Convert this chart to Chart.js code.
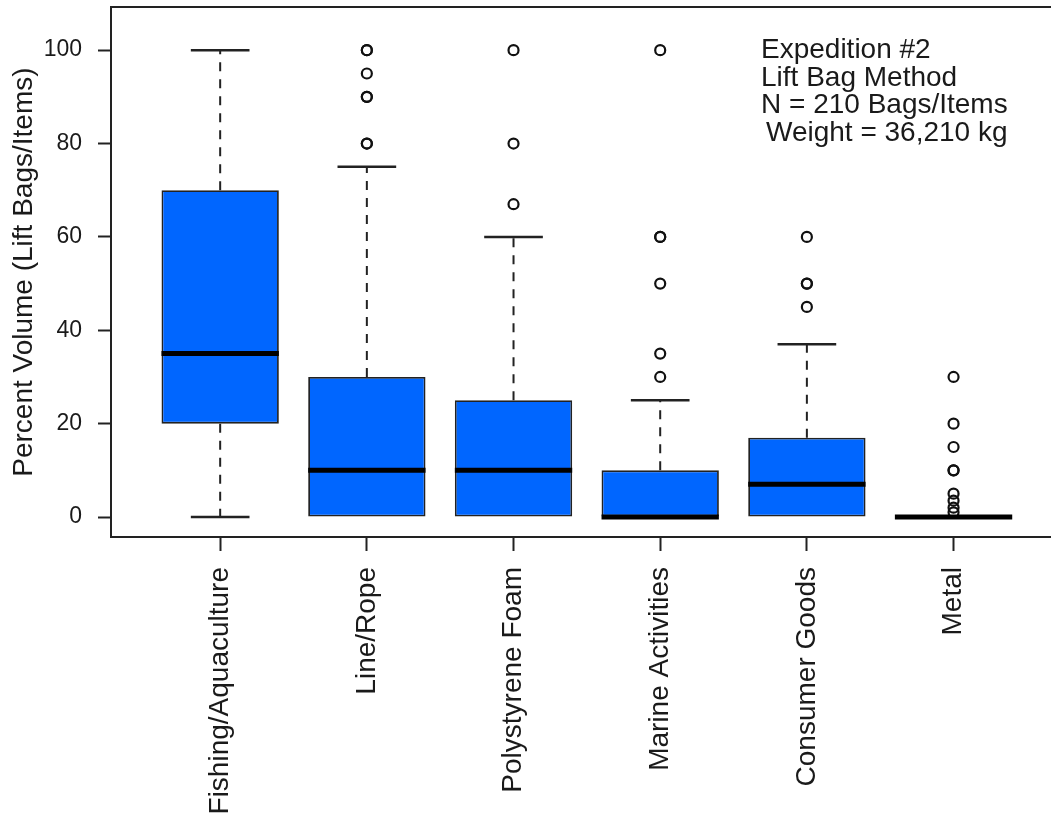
<!DOCTYPE html>
<html>
<head>
<meta charset="utf-8">
<script src="https://cdn.jsdelivr.net/npm/chart.js@4.4.0/dist/chart.umd.min.js"></script>
<style>
  html, body { margin: 0; padding: 0; background: #fff; }
  #chart { display: block; }
</style>
</head>
<body>
<canvas id="chart" width="1058" height="821"></canvas>
<script>
// box plot summary values
const categories = ['Fishing/Aquaculture', 'Line/Rope', 'Polystyrene Foam', 'Marine Activities', 'Consumer Goods', 'Metal'];
const whiskerLow = [0, 0, 0, 0, 0, 0];
const quartile1 = [20, 0, 0, 0, 0, 0];
const medians = [35, 10, 10, 0, 7, 0];
const quartile3 = [70, 30, 25, 10, 17, 0];
const whiskerHigh = [100, 75, 60, 25, 37, 0];
const outliers = [
    [],
    [80, 80, 90, 90, 95, 100, 100],
    [67, 80, 100],
    [30, 35, 50, 60, 60, 100],
    [45, 50, 50, 60],
    [1, 2, 3.5, 5, 10, 10, 15, 20, 30]
];
const yTicks = [0, 20, 40, 60, 80, 100];
const noteLines = ['Expedition #2', 'Lift Bag Method', 'N = 210 Bags/Items', 'Weight = 36,210 kg'];

const family = '"Liberation Sans", Arial, Helvetica, sans-serif';
const ink = '#1a1a1a';
const lineColor = '#222';
const xMin = 0.2557, xMax = 6.663;

const boxParts = {
    id: 'boxParts',
    beforeDatasetsDraw(chart) {
        const { ctx, scales: { x, y } } = chart;
        const capHalf = x.getPixelForValue(1.2) - x.getPixelForValue(1);
        ctx.save();
        ctx.strokeStyle = lineColor;
        categories.forEach((c, i) => {
            const px = x.getPixelForValue(i + 1);
            // dashed whiskers plus solid caps, only where the whisker sticks out of the box
            [[quartile3[i], whiskerHigh[i]], [quartile1[i], whiskerLow[i]]].forEach(([from, to]) => {
                if (from === to) return;
                ctx.lineWidth = 2;
                ctx.setLineDash([9, 8]);
                ctx.beginPath();
                ctx.moveTo(px, y.getPixelForValue(from));
                ctx.lineTo(px, y.getPixelForValue(to));
                ctx.stroke();
                ctx.setLineDash([]);
                ctx.lineWidth = 2.5;
                ctx.beginPath();
                ctx.moveTo(px - capHalf, y.getPixelForValue(to));
                ctx.lineTo(px + capHalf, y.getPixelForValue(to));
                ctx.stroke();
            });
        });
        ctx.restore();
    },
    afterDatasetsDraw(chart) {
        const { ctx, scales: { x, y } } = chart;
        const boxHalf = x.getPixelForValue(1.4) - x.getPixelForValue(1);
        ctx.save();
        ctx.strokeStyle = '#000';
        ctx.lineWidth = 5;
        ctx.lineCap = 'butt';
        medians.forEach((m, i) => {
            const px = x.getPixelForValue(i + 1);
            const py = y.getPixelForValue(m);
            ctx.beginPath();
            ctx.moveTo(px - boxHalf, py);
            ctx.lineTo(px + boxHalf, py);
            ctx.stroke();
        });
        ctx.restore();
    },
    afterDraw(chart) {
        const { ctx } = chart;
        ctx.save();
        ctx.fillStyle = ink;
        ctx.font = '28px ' + family;
        ctx.textBaseline = 'alphabetic';
        noteLines.forEach((t, i) => {
            ctx.fillText(t, i === 3 ? 766 : 761, 58 + i * 27.5);
        });
        ctx.restore();
    }
};

const outlierPoints = [];
outliers.forEach((list, i) => list.forEach(v => outlierPoints.push({ x: i + 1, y: v })));

new Chart(document.getElementById('chart'), {
    type: 'bar',
    data: {
        datasets: [{
            type: 'bar',
            data: categories.map((c, i) => ({ x: i + 1, y: [quartile1[i], quartile3[i]] })),
            backgroundColor: '#0066ff',
            borderColor: lineColor,
            borderWidth: 1.8,
            borderSkipped: false,
            barPercentage: 0.8,
            categoryPercentage: 1.0
        }, {
            type: 'scatter',
            data: outlierPoints,
            showLine: false,
            pointStyle: 'circle',
            pointRadius: 5,
            pointBorderWidth: 2.2,
            pointBackgroundColor: 'rgba(255,255,255,0)',
            pointBorderColor: '#111'
        }]
    },
    options: {
        responsive: false,
        animation: false,
        layout: { padding: 0 },
        plugins: { legend: { display: false }, tooltip: { enabled: false } },
        scales: {
            x: {
                type: 'linear',
                min: xMin,
                max: xMax,
                offset: false,
                afterBuildTicks: s => { s.ticks = categories.map((c, i) => ({ value: i + 1 })); },
                ticks: {
                    callback: (v, i) => categories[i],
                    autoSkip: false,
                    maxRotation: 90,
                    minRotation: 90,
                    padding: 16,
                    color: ink,
                    font: { size: 28, family }
                },
                grid: { offset: false, drawOnChartArea: false, tickLength: 14, tickColor: lineColor, tickWidth: 2 },
                border: { display: true, color: lineColor, width: 2 },
                afterFit: s => { s.height = 284; s.paddingLeft = 0; s.paddingRight = 0; }
            },
            xTop: {
                type: 'linear',
                position: 'top',
                min: xMin,
                max: xMax,
                offset: false,
                ticks: { display: false },
                grid: { offset: false, drawOnChartArea: false, drawTicks: false },
                border: { display: true, color: lineColor, width: 2 },
                afterFit: s => { s.height = 7; s.paddingLeft = 0; s.paddingRight = 0; }
            },
            y: {
                min: -4.28,
                max: 109.2,
                afterBuildTicks: s => { s.ticks = yTicks.map(v => ({ value: v })); },
                ticks: { padding: 16, color: ink, font: { size: 23, family } },
                grid: { drawOnChartArea: false, tickLength: 13, tickColor: lineColor, tickWidth: 2 },
                border: { display: true, color: lineColor, width: 2 },
                title: {
                    display: true,
                    text: 'Percent Volume (Lift Bags/Items)',
                    color: ink,
                    font: { size: 28, family },
                    padding: { top: 7, bottom: 0 }
                },
                afterFit: s => { s.width = 111; s.paddingTop = 0; s.paddingBottom = 0; }
            }
        }
    },
    plugins: [boxParts]
});
</script>
</body>
</html>
